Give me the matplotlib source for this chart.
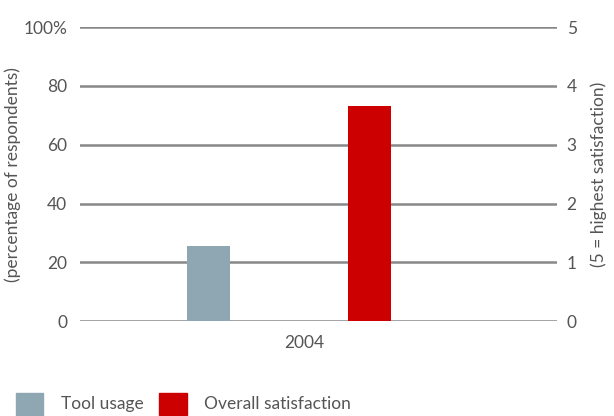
import matplotlib.pyplot as plt
from matplotlib.patches import Patch

plt.rcParams['font.family'] = ['Lato', 'DejaVu Sans']

year = ['2004']
tool_usage = [25.5]          # percent of respondents
overall_satisfaction = [3.66]  # 5 = highest

left_ticks = [0, 20, 40, 60, 80, 100]
left_labels = ['0', '20', '40', '60', '80', '100%']
right_ticks = [0, 1, 2, 3, 4, 5]

grey = '#8fa6b3'
red = '#cc0000'
txt = '#555555'

fig = plt.figure(figsize=(6.14, 4.16), dpi=100)
ax = fig.add_axes([0.130, 0.228, 0.777, 0.707])
ax2 = ax.twinx()

x = list(range(len(year)))
ax.bar([i - 0.2 for i in x], tool_usage, width=0.09, color=grey, zorder=3)
ax2.bar([i + 0.138 for i in x], overall_satisfaction, width=0.09, color=red, zorder=3)

ax.set_xlim(-0.47, 0.53)
ax.set_ylim(0, 100)
ax2.set_ylim(0, 5)
ax.set_yticks(left_ticks)
ax.set_yticklabels(left_labels)
ax2.set_yticks(right_ticks)
ax.set_xticks(x)
ax.set_xticklabels(year)

for a in (ax, ax2):
    for s in a.spines.values():
        s.set_visible(False)
    a.tick_params(length=0, labelsize=12.5, colors=txt)
ax.tick_params(axis='y', pad=9)
ax2.tick_params(axis='y', pad=7)
ax.tick_params(axis='x', pad=10)

for v in left_ticks:
    ax.axhline(v, color='#888888', lw=1.8, zorder=1)

ax.set_ylabel('(percentage of respondents)', fontsize=12.5, color=txt, labelpad=2)
ax2.set_ylabel('(5 = highest satisfaction)', fontsize=12.5, color=txt, rotation=90, labelpad=10)

handles = [Patch(color=grey, label='Tool usage'), Patch(color=red, label='Overall satisfaction')]
fig.legend(handles=handles, loc='lower left', bbox_to_anchor=(0.0, -0.035), ncol=2,
           frameon=False, fontsize=12.5, handlelength=1.6, handleheight=1.6,
           handletextpad=1.0, columnspacing=0.9, labelcolor=txt)

fig.savefig('out.png', dpi=100)
